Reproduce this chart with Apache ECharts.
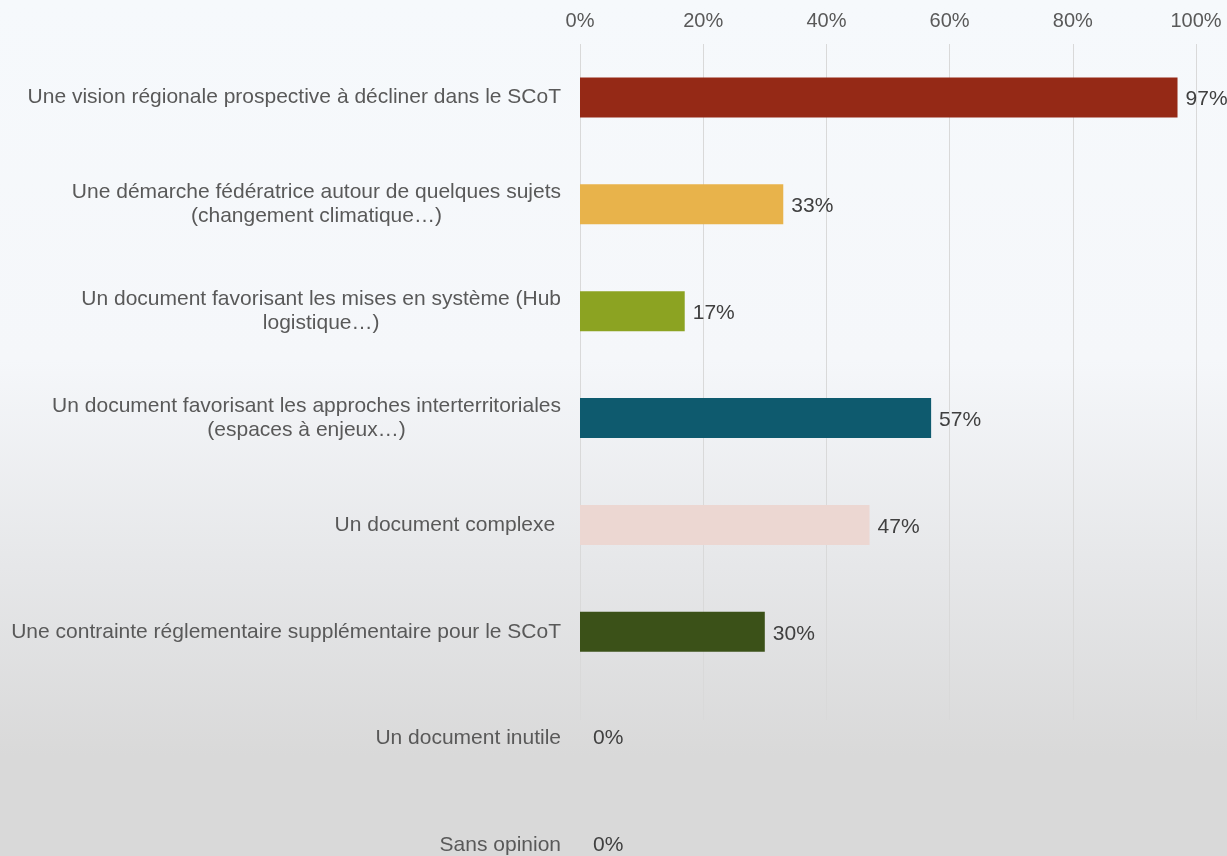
<!DOCTYPE html>
<html>
<head>
<meta charset="utf-8">
<style>
  html, body { margin: 0; padding: 0; overflow: hidden; }
  #chart { width: 1227px; height: 900px; }
</style>
<script src="https://cdn.jsdelivr.net/npm/echarts@6/dist/echarts.min.js"></script>
</head>
<body>
<div id="chart"></div>
<script>
// catégories (du haut vers le bas)
var categories = [
    'Une vision régionale prospective à décliner dans le SCoT',
    'Une démarche fédératrice autour de quelques sujets\n(changement climatique…)',
    'Un document favorisant les mises en système (Hub\nlogistique…)',
    'Un document favorisant les approches interterritoriales\n(espaces à enjeux…)',
    'Un document complexe ',
    'Une contrainte réglementaire supplémentaire pour le SCoT',
    'Un document inutile',
    'Sans opinion'
];
var values = [97, 33, 17, 57, 47, 30, 0, 0];
var barColors = ['#952916', '#E8B34B', '#8CA322', '#0E5A6E', '#ECD7D2', '#3B5118', '#999999', '#999999'];
var tickValues = [0, 20, 40, 60, 80, 100];

var FONT = '"Liberation Sans", Arial, sans-serif';

// le graphique est plus haut que la fenêtre : la dernière ligne est coupée comme dans l'original
var chart = echarts.init(document.getElementById('chart'));

// chaque ligne centrée dans le bloc de texte
var rich = {
    c: { align: 'center', fontSize: 21, lineHeight: 24, color: '#595959', fontFamily: FONT }
};

var option = {
    backgroundColor: {
        type: 'linear', x: 0, y: 0, x2: 0, y2: 1,
        colorStops: [
            { offset: 0, color: '#F6F9FC' },
            { offset: 0.40, color: '#F5F7FA' },
            { offset: 0.63, color: '#E6E7E9' },
            { offset: 0.84, color: '#D9D9D9' },
            { offset: 1, color: '#D9D9D9' }
        ]
    },
    textStyle: { fontFamily: FONT },
    grid: [
        // zone des barres
        { left: 580, right: 31, top: 44, height: 855 },
        // zone du quadrillage
        { left: 580, right: 31, top: 44, height: 676 }
    ],
    xAxis: [
        {
            type: 'value', gridIndex: 0, position: 'top',
            min: 0, max: 100, interval: 20,
            axisLine: { show: false }, axisTick: { show: false },
            splitLine: { show: false },
            axisLabel: {
                formatter: function (v) { return tickValues.indexOf(v) >= 0 ? v + '%' : ''; },
                fontSize: 20, color: '#595959', margin: 13, fontFamily: FONT
            }
        },
        {
            type: 'value', gridIndex: 1, position: 'top',
            min: 0, max: 100, interval: 20,
            axisLine: { show: false }, axisTick: { show: false },
            axisLabel: { show: false },
            splitLine: { show: true, lineStyle: { color: '#D9D9D9', width: 1 } }
        }
    ],
    yAxis: [
        {
            type: 'category', gridIndex: 0, data: categories, inverse: true,
            axisLine: { show: false }, axisTick: { show: false },
            axisLabel: {
                margin: 19,
                formatter: function (v) {
                    return v.split('\n').map(function (l) { return '{c|' + l + '}'; }).join('\n');
                },
                rich: rich
            }
        },
        {
            type: 'value', gridIndex: 1, min: 0, max: 1, show: false
        }
    ],
    series: [
        {
            type: 'bar', xAxisIndex: 0, yAxisIndex: 0,
            data: values.map(function (v, i) {
                var item = { value: v, itemStyle: { color: barColors[i] } };
                if (v === 0) item.label = { offset: [5, 0] };
                return item;
            }),
            barWidth: 40,
            silent: true,
            label: {
                show: true, position: 'right', distance: 8, offset: [0, 2],
                formatter: '{c}%', fontSize: 21, color: '#404040', fontFamily: FONT
            }
        }
    ]
};

chart.setOption(option);
</script>
</body>
</html>
